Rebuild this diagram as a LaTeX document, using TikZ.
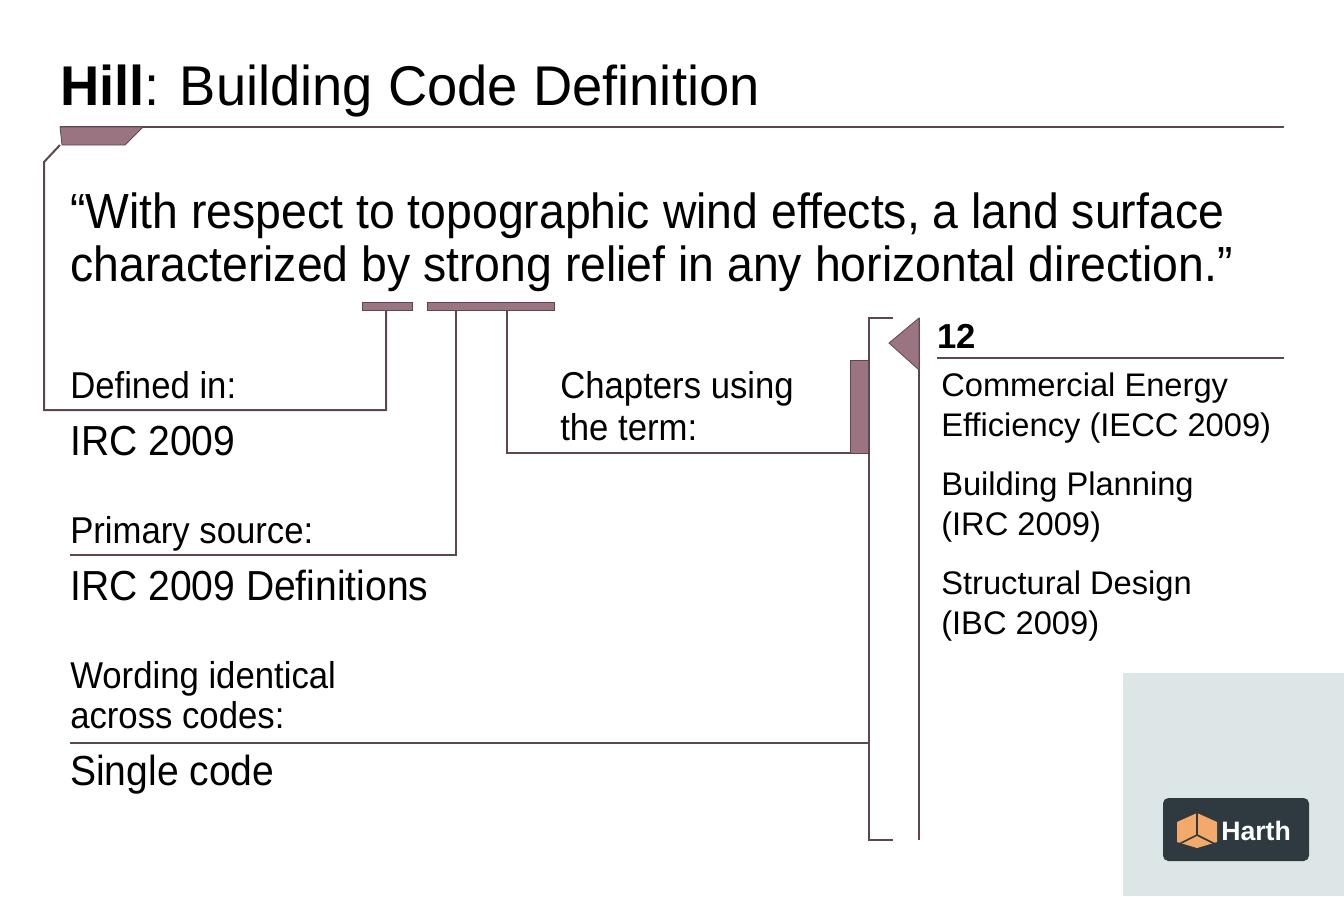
\documentclass[tikz,border=0pt]{standalone}
\usepackage{fontspec}
\setmainfont{Liberation Sans}
\newfontfamily\condA[FakeStretch=0.94]{Liberation Sans}
\newfontfamily\condB[FakeStretch=0.93]{Liberation Sans}
\newfontfamily\condT[FakeStretch=0.97]{Liberation Sans}
\definecolor{ln}{HTML}{5E4650}
\definecolor{fl}{HTML}{9A7480}
\definecolor{gbox}{HTML}{DDE6E6}
\definecolor{badge}{HTML}{2E3A40}
\definecolor{cube}{HTML}{F2A96A}
\begin{document}
\begin{tikzpicture}[x=0.75pt,y=-0.75pt,
  ln/.style={draw=ln,line width=1.5pt},
  fb/.style={fill=fl,draw=ln,line width=0.6pt},
  lab/.style={anchor=base west,inner sep=0,font=\condB\fontsize{28}{30}\selectfont},
  val/.style={anchor=base west,inner sep=0,font=\condB\fontsize{31.5}{33}\selectfont},
  qt/.style={anchor=base west,inner sep=0,font=\condA\fontsize{37}{42}\selectfont},
  rt/.style={anchor=base west,inner sep=0,font=\fontsize{24.5}{30}\selectfont}]
\useasboundingbox (0,0) rectangle (1344,896);
\fill[gbox] (1123,673) rectangle (1344,896);
% title
\node[anchor=base west,inner sep=0,font=\condT\fontsize{42}{48}\selectfont] (title) at (60,105) {\textbf{Hill}: Building Code Definition};
\draw[ln] (60,127) -- (1284,127);
\draw[fb] (60,127) -- (143,127) -- (125,145) -- (62,145) -- cycle;
% quote
\node[qt] (q1) at (70,228) {“With respect to topographic wind effects, a land surface};
\node[qt] (q2) at (70,281) {characterized by strong relief in any horizontal direction.”};
\draw[fb] (362,302) rectangle (412,310);
\draw[fb] (427,302) rectangle (554,310);
\coordinate (b1) at (386,310);
\coordinate (b2) at (456,310);
\coordinate (b3) at (507,310);
\draw[ln] (60,145) -- (44,162) -- (44,410) -- (386,410) -- (b1);
\draw[ln] (b2) -- (456,555) -- (70,555);
\draw[ln] (b3) -- (507,453) -- (869,453);
\draw[fb] (850,360) rectangle (868,453);
% bracket
\draw[ln] (893,318) -- (869,318) -- (869,840) -- (893,840);
\draw[ln] (70,743) -- (869,743);
\draw[ln] (919,318) -- (919,840);
\draw[fb] (919,318) -- (889,343) -- (919,370) -- cycle;
% left labels
\node[lab] (d1) at (70,398) {Defined in:};
\node[val] (v1) at (70,455) {IRC 2009};
\node[lab] (d2) at (70,543) {Primary source:};
\node[val] (v2) at (70,600) {IRC 2009 Definitions};
\node[lab] (d3a) at (70,688) {Wording identical};
\node[lab] (d3b) at (70,728) {across codes:};
\node[val] (v3) at (70,785) {Single code};
\node[lab] (d4a) at (560,398) {Chapters using};
\node[lab] (d4b) at (560,440) {the term:};
% right
\node[anchor=base west,inner sep=0,font=\bfseries\fontsize{26}{30}\selectfont] (n12) at (937,348) {12};
\draw[ln] (937,358) -- (1284,358);
\node[rt] (c1a) at (941,396) {Commercial Energy};
\node[rt] (c1b) at (941,436) {Efficiency (IECC 2009)};
\node[rt] (c2a) at (941,495) {Building Planning};
\node[rt] (c2b) at (941,535) {(IRC 2009)};
\node[rt] (c3a) at (941,594) {Structural Design};
\node[rt] (c3b) at (941,634) {(IBC 2009)};
% badge
\fill[badge,rounded corners=4pt] (1163,798) rectangle (1309,861);
\fill[cube] (1177,822) -- (1197,813) -- (1217,822) -- (1217,842) -- (1197,848) -- (1177,842) -- cycle;
\draw[badge,line width=1.2pt] (1197,813) -- (1197,835) -- (1177,845) (1197,835) -- (1217,845);
\node[anchor=base west,inner sep=0,text=white,font=\bfseries\fontsize{20}{24}\selectfont] (hl) at (1221,840) {Harth};
\end{tikzpicture}
\end{document}
